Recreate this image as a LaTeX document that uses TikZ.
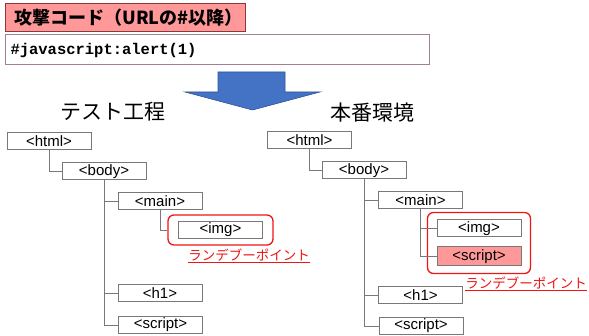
\documentclass[tikz,border=0pt]{standalone}
\usepackage{fontspec}
\setmainfont{Liberation Sans}
\setmonofont{Liberation Mono}
\newfontfamily\jpfont{Noto Sans CJK JP}
\definecolor{attackpink}{RGB}{255,153,153}
\definecolor{attackborder}{RGB}{140,56,56}
\definecolor{codeborder}{RGB}{165,125,150}
\definecolor{arrowblue}{RGB}{68,114,196}
\definecolor{arrowedge}{RGB}{47,85,151}
\definecolor{boxgray}{RGB}{120,120,120}
\definecolor{pointred}{RGB}{240,20,20}
\usetikzlibrary{fit}

\begin{document}
\begin{tikzpicture}[x=1pt, y=-1pt,
  tag/.style={draw=boxgray, fill=white, line width=1pt, minimum width=84pt, minimum height=17pt, inner sep=0pt, font=\fontsize{15}{15}\selectfont},
  branch/.style={draw=boxgray, line width=0.9pt},
  rendezvous/.style={draw=pointred, line width=1.3pt, rounded corners=6pt, inner sep=0pt},
  pointlabel/.style={text=pointred, font=\jpfont\fontsize{13.5}{14}\selectfont, inner sep=0pt}]
  \useasboundingbox (0,0) rectangle (589,336);

  % Attack code
  \node[draw=attackborder, fill=attackpink, line width=1pt, anchor=west, text width=222pt, inner xsep=9pt, minimum height=28pt,
        font=\jpfont\bfseries\fontsize{18}{18}\selectfont] (attack) at (5,18) {攻撃コード（URLの\#以降）};
  \node[draw=codeborder, line width=1pt, anchor=west, text width=414pt, inner xsep=5pt, minimum height=30pt,
        font=\ttfamily\bfseries\fontsize{15.5}{16}\selectfont] (code) at (5,50) {\#javascript:alert(1)};

  % Arrow
  \filldraw[fill=arrowblue, draw=arrowedge, line width=0.6pt]
    (218,72) -- (285,72) -- (285,92) -- (320,92) -- (252.5,110) -- (185,92) -- (218,92) -- cycle;

  % Titles
  \node[font=\jpfont\fontsize{21}{21}\selectfont] (testtitle) at (113,112) {テスト工程};
  \node[font=\jpfont\fontsize{21}{21}\selectfont] (prodtitle) at (372,113) {本番環境};

  % Test tree
  \node[tag] (lhtml) at (49,141.5) {<html>};
  \node[tag] (lbody) at (104,171.5) {<body>};
  \node[tag] (lmain) at (160,201) {<main>};
  \node[tag] (limg) at (220.5,230) {<img>};
  \node[tag] (lh1) at (160,293.5) {<h1>};
  \node[tag] (lscript) at (160.5,325) {<script>};
  \node[rendezvous, fit=(limg), inner xsep=10pt, inner ysep=6pt] (lpoint) {};
  \node[pointlabel] (llabel) at (249,256) {\underline{ランデブーポイント}};

  % Production tree
  \node[tag] (rhtml) at (309.5,140) {<html>};
  \node[tag] (rbody) at (364,170.5) {<body>};
  \node[tag] (rmain) at (420.5,200.5) {<main>};
  \node[tag] (rimg) at (479,228.5) {<img>};
  \node[tag, fill=attackpink, minimum height=19pt] (rinject) at (479,256.5) {<script>};
  \node[tag] (rh1) at (420.5,295) {<h1>};
  \node[tag] (rscript) at (421,326) {<script>};
  \node[rendezvous, fit=(rimg) (rinject), inner xsep=9pt, inner ysep=7pt] (rpoint) {};
  \node[pointlabel] (rlabel) at (526,284) {\underline{ランデブーポイント}};

  % Connectors
  \foreach \p/\c in {lhtml/lbody, lbody/lmain, lmain/lpoint, lbody/lh1, lbody/lscript,
                     rhtml/rbody, rbody/rmain, rmain/rimg, rmain/rinject, rbody/rh1, rbody/rscript}
    \draw[branch] (\p.south) |- (\c.west);
\end{tikzpicture}
\end{document}
